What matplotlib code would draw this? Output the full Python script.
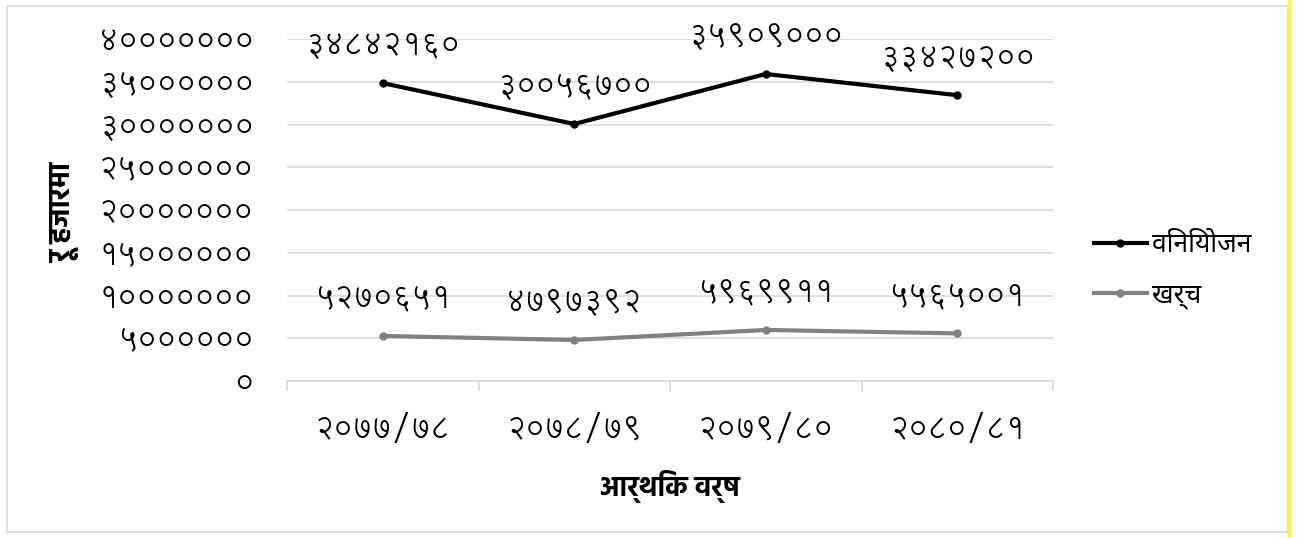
import matplotlib
matplotlib.use("Agg")
import matplotlib.pyplot as plt
from matplotlib.patches import Rectangle
from matplotlib.lines import Line2D

# ---- data ----
categories = ["२०७७/७८", "२०७८/७९", "२०७९/८०", "२०८०/८१"]
allocation = [34842160, 30056700, 35909000, 33427200]   # विनियोजन
expenditure = [5270651, 4797392, 5969911, 5565001]     # खर्च
series_names = ["विनियोजन", "खर्च"]
y_ticks = [0, 5000000, 10000000, 15000000, 20000000, 25000000, 30000000, 35000000, 40000000]
y_tick_labels = ["०", "५००००००", "१०००००००", "१५००००००", "२०००००००",
                 "२५००००००", "३०००००००", "३५००००००", "४०००००००"]
x_label = "आर्थिक वर्ष"
y_label = "रू हजारमा"

DIG = str.maketrans("0123456789", "०१२३४५६७८९")
def deva(n):
    return str(n).translate(DIG)

NUM_FONT = ["Lohit Devanagari", "Noto Sans Devanagari", "DejaVu Sans"]
TXT_FONT = ["Noto Sans Devanagari", "Lohit Devanagari", "DejaVu Sans"]
BOLD_FONT = ["Hind", "Mukta", "Noto Sans Devanagari", "DejaVu Sans"]
NUM_SIZE = 21.5

W, H = 1303, 538
fig = plt.figure(figsize=(W / 100, H / 100), dpi=100)
fig.patch.set_facecolor("white")

# outer chart frame and right yellow edge
fig.patches.append(Rectangle((7 / W, 6 / H), (1288 - 7) / W, (532 - 6) / H,
                             transform=fig.transFigure, fill=False,
                             edgecolor="#d9d9d9", linewidth=1.2))
fig.lines.append(Line2D([1289 / W, 1289 / W], [0, 1], transform=fig.transFigure,
                        color="#ffff00", linewidth=2))

ax = fig.add_axes([287 / W, (H - 381) / H, (1053 - 287) / W, (381 - 39) / H])
x = list(range(len(categories)))

ax.set_xlim(-0.5, len(categories) - 0.5)
ax.set_ylim(0, 40000000)
ax.set_yticks(y_ticks)
ax.set_yticklabels(y_tick_labels, family=NUM_FONT, fontsize=NUM_SIZE)
ax.yaxis.grid(True, color="#d9d9d9", linewidth=1.2)
ax.set_axisbelow(True)
for s in ["left", "right", "top"]:
    ax.spines[s].set_visible(False)
ax.spines["bottom"].set_color("#d9d9d9")
ax.spines["bottom"].set_linewidth(1.2)
ax.tick_params(axis="y", length=0, pad=24)

# category boundary ticks (major) and labels (minor)
ax.set_xticks([i - 0.5 for i in range(len(categories) + 1)])
ax.set_xticklabels([""] * (len(categories) + 1))
ax.tick_params(axis="x", which="major", length=7, color="#d9d9d9", width=1.2)
ax.set_xticks(x, minor=True)
ax.set_xticklabels(categories, minor=True, family=NUM_FONT, fontsize=NUM_SIZE)
ax.tick_params(axis="x", which="minor", length=0, pad=24)

l1, = ax.plot(x, allocation, color="#000000", linewidth=3, marker="o", markersize=5,
              label=series_names[0], zorder=3)
l2, = ax.plot(x, expenditure, color="#808080", linewidth=3, marker="o", markersize=5,
              label=series_names[1], zorder=3)

for xi, v in zip(x, allocation):
    ax.annotate(deva(v), (xi, v), xytext=(0, 26), textcoords="offset points",
                ha="center", va="center", family=NUM_FONT, fontsize=NUM_SIZE)
for xi, v in zip(x, expenditure):
    ax.annotate(deva(v), (xi, v), xytext=(0, 26), textcoords="offset points",
                ha="center", va="center", family=NUM_FONT, fontsize=NUM_SIZE)

ax.set_xlabel(x_label, family=BOLD_FONT, fontsize=20, fontweight="bold", labelpad=18)
fig.text(65 / W, (H - 212) / H, y_label, rotation=90, ha="center", va="center",
         family=BOLD_FONT, fontsize=21, fontweight="bold")

leg = fig.legend(handles=[l1, l2], loc="center left",
                 bbox_to_anchor=(1094 / W, (H - 270) / H), frameon=False,
                 borderpad=0, borderaxespad=0,
                 prop={"family": TXT_FONT, "size": 19}, handlelength=2.0,
                 handletextpad=0.2, labelspacing=0.85)

fig.savefig("out.png", dpi=100)
